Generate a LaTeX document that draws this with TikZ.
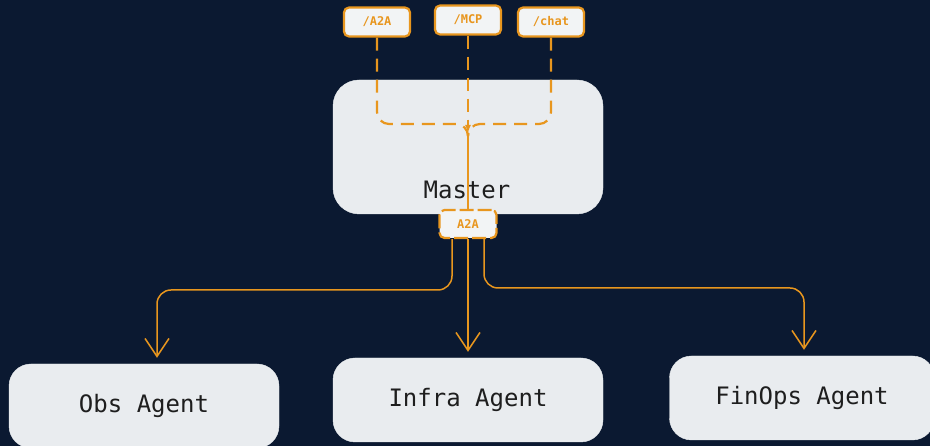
\documentclass[tikz,border=0pt]{standalone}
\usepackage{fontspec}
\setmonofont{DejaVu Sans Mono}
\usetikzlibrary{arrows.meta, positioning}
\definecolor{mastnavy}{rgb}{0.043, 0.098, 0.192}
\definecolor{mastorange}{rgb}{0.910, 0.588, 0.118}
\definecolor{mastgrey}{rgb}{0.914, 0.925, 0.937}
\definecolor{mastink}{rgb}{0.118, 0.118, 0.118}
\tikzset{agent/.style={draw=mastgrey, fill=mastgrey, rounded corners=22pt, minimum width=270pt, minimum height=84pt, text=mastink, font=\ttfamily\fontsize{24}{28}\selectfont}}
\tikzset{endpoint/.style={draw=mastorange, line width=2.2pt, fill=mastgrey!60!white, rounded corners=5pt, minimum width=66pt, minimum height=29pt, text=mastorange, font=\ttfamily\bfseries\fontsize{12}{14}\selectfont}}
\tikzset{route/.style={color=mastorange, line width=1.5pt, rounded corners=14pt, shorten >=6pt, -{Straight Barb[length=18pt, width=24pt]}}}
\tikzset{lroute/.style={color=mastorange, line width=2.2pt, dash pattern=on 13pt off 8pt, rounded corners=12pt}}

\begin{document}
\begin{tikzpicture}[x=1pt, y=1pt]
        \useasboundingbox (0,0) rectangle (930,446);
        \clip (0,0) rectangle (930,446);
        \fill[mastnavy] (0,0) rectangle (930,446);

        \node[endpoint] (Ea) at (377, 424) {/A2A};
        \node[endpoint] (Eb) at (468, 426) {/MCP};
        \node[endpoint] (Ec) at (551, 424) {/chat};

        \node[agent, minimum height=134pt, rounded corners=26pt] (Nm) at (468, 299) {};
        \node[text=mastink, font=\ttfamily\fontsize{24}{28}\selectfont] (Nt) at (467, 256) {Master};
        \node[endpoint, minimum width=57pt, minimum height=28pt, dash pattern=on 14pt off 4pt] (Np) at (468, 222) {A2A};

        \node[agent] (Na) at (144, 40) {Obs Agent};
        \node[agent] (Nb) at (468, 46) {Infra Agent};
        \node[agent, minimum width=265pt] (Nc) at (802, 48) {FinOps Agent};

        \coordinate (J) at (468, 313);
        \draw [lroute] (Ea) |- (468, 322) -- (J);
        \draw [lroute] (Ec) |- (468, 322) -- (J);
        \draw [lroute, -{Latex[length=8pt, width=6pt]}] (Eb) -- (J);
        \draw [color=mastorange, line width=1.5pt] (J) -- (Np.north);

        \draw [route] ([xshift=-16pt]Np.south) |- (157, 156) -- ([xshift=13pt]Na.north);
        \draw [route] (Np.south) -- (Nb.north);
        \draw [route] ([xshift=16pt]Np.south) |- (804, 158) -- ([xshift=2pt]Nc.north);
    \end{tikzpicture}
\end{document}
